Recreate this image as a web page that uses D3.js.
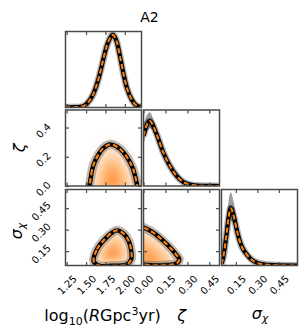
<!DOCTYPE html>
<html><head><meta charset="utf-8">
<script src="https://cdn.jsdelivr.net/npm/d3@7"></script>
<style>body{margin:0;background:#fff}svg{display:block;font-family:"DejaVu Sans",sans-serif}</style>
</head><body><svg id="c" width="307" height="334"></svg>
<script>
// ---------- data ----------
const varNames = ["logR", "zeta", "sigma"];
const domLogR = [1.235, 2.215];
const domZeta = [0, 0.52];
const domSigma = [0.05, 0.58];

// 1D marginal of log10 R (relative density)
const logRGrid = [1.232, 1.35, 1.448, 1.512, 1.598, 1.663, 1.706, 1.748, 1.792, 1.843, 1.899, 1.942, 1.985, 2.028, 2.093, 2.157, 2.221];
const logRMed  = [0.003, 0.004, 0.012, 0.053, 0.187, 0.387, 0.564, 0.742, 0.876, 0.956, 0.853, 0.653, 0.431, 0.253, 0.097, 0.022, 0.004];
const logRHi   = [0.005, 0.008, 0.020, 0.075, 0.220, 0.430, 0.610, 0.790, 0.920, 0.990, 0.900, 0.700, 0.480, 0.290, 0.120, 0.032, 0.007];
const logRLo   = [0.001, 0.002, 0.006, 0.035, 0.155, 0.345, 0.520, 0.700, 0.830, 0.910, 0.810, 0.600, 0.385, 0.215, 0.075, 0.014, 0.001];

// 1D marginal of zeta
const zetaGrid = [0.000, 0.022, 0.044, 0.067, 0.090, 0.136, 0.181, 0.227, 0.272, 0.318, 0.387, 0.450, 0.520];
const zetaMed  = [0.660, 0.800, 0.855, 0.790, 0.680, 0.438, 0.263, 0.132, 0.053, 0.018, 0.003, 0.001, 0.000];
const zetaHi   = [0.800, 0.930, 0.970, 0.880, 0.740, 0.475, 0.288, 0.150, 0.066, 0.025, 0.006, 0.002, 0.001];
const zetaLo   = [0.540, 0.700, 0.760, 0.720, 0.630, 0.405, 0.240, 0.116, 0.042, 0.012, 0.001, 0.000, 0.000];

// 1D marginal of sigma_chi
const sigmaGrid = [0.050, 0.060, 0.084, 0.100, 0.114, 0.137, 0.160, 0.188, 0.223, 0.258, 0.305, 0.374, 0.450, 0.580];
const sigmaMed  = [0.020, 0.088, 0.395, 0.636, 0.754, 0.636, 0.439, 0.263, 0.154, 0.079, 0.031, 0.009, 0.002, 0.000];
const sigmaHi   = [0.050, 0.170, 0.580, 0.860, 0.965, 0.820, 0.560, 0.340, 0.200, 0.110, 0.045, 0.014, 0.004, 0.001];
const sigmaLo   = [0.005, 0.040, 0.260, 0.480, 0.600, 0.530, 0.370, 0.210, 0.120, 0.055, 0.020, 0.005, 0.001, 0.000];

// 2D credible contours [x, y] and density peaks
const contourRZeta = [[1.568,-0.07],[1.568,0.080],[1.599,0.148],[1.654,0.210],[1.728,0.262],[1.813,0.285],[1.899,0.269],[1.985,0.228],[2.071,0.159],[2.127,0.080],[2.144,-0.07]];
const peakRZeta = [1.84, 0.04];
const contourRSigma = [[1.598,0.081],[1.641,0.163],[1.728,0.226],[1.835,0.279],[1.899,0.295],[1.985,0.272],[2.050,0.221],[2.083,0.151],[2.083,0.093],[2.028,0.058],[1.835,0.048],[1.663,0.050]];
const peakRSigma = [1.835, 0.13];
const contourZetaSigma = [[-0.07,0.350],[0.003,0.314],[0.067,0.279],[0.136,0.221],[0.193,0.163],[0.227,0.121],[0.245,0.093],[0.227,0.065],[0.159,0.053],[0.067,0.051],[0.003,0.056],[-0.07,0.060]];
const peakZetaSigma = [0.04, 0.085];

// ticks
const ticksLogR = [1.25, 1.50, 1.75, 2.00];
const tickLabelsLogR = ["1.25", "1.50", "1.75", "2.00"];
const ticksZetaX = [0.00, 0.15, 0.30, 0.45];
const tickLabelsZetaX = ["0.00", "0.15", "0.30", "0.45"];
const ticksZetaY = [0.0, 0.2, 0.4];
const tickLabelsZetaY = ["0.0", "0.2", "0.4"];
const ticksSigma = [0.15, 0.30, 0.45];
const tickLabelsSigma = ["0.15", "0.30", "0.45"];

// ---------- layout ----------
const colX = [65.5, 143.5, 221.5];
const rowY = [31.5, 110, 189.5];
const S = 76;
const orange = "#ff7f0e";
const frameColor = "#4a4a4a";
const tickFont = 10;

const doms = [domLogR, domZeta, domSigma];
const xTicks = [[ticksLogR, tickLabelsLogR], [ticksZetaX, tickLabelsZetaX], [ticksSigma, tickLabelsSigma]];
const yTicks = [null, [ticksZetaY, tickLabelsZetaY], [ticksSigma, tickLabelsSigma]];

const xS = doms.map((d, c) => d3.scaleLinear().domain(d).range([colX[c], colX[c] + S]));
const yS = doms.map((d, r) => d3.scaleLinear().domain(d).range([rowY[r] + S, rowY[r]]));

const svg = d3.select("#c");
const defs = svg.append("defs");
for (let r = 0; r < 3; r++) for (let c = 0; c <= r; c++) {
  defs.append("clipPath").attr("id", `cp${r}${c}`).append("rect")
    .attr("x", colX[c]).attr("y", rowY[r]).attr("width", S).attr("height", S);
}
defs.append("filter").attr("id", "blur").attr("x", "-50%").attr("y", "-50%")
  .attr("width", "200%").attr("height", "200%")
  .append("feGaussianBlur").attr("stdDeviation", 2.4);

// ---------- 1D panels ----------
const oneD = [
  {grid: logRGrid, med: logRMed, hi: logRHi, lo: logRLo},
  {grid: zetaGrid, med: zetaMed, hi: zetaHi, lo: zetaLo},
  {grid: sigmaGrid, med: sigmaMed, hi: sigmaHi, lo: sigmaLo}
];
oneD.forEach((d, i) => {
  const x = xS[i];
  const y = d3.scaleLinear().domain([0, 1]).range([rowY[i] + S, rowY[i]]);
  const g = svg.append("g").attr("clip-path", `url(#cp${i}${i})`);
  const area = d3.area().x((v, k) => x(d.grid[k])).y0((v, k) => y(d.lo[k])).y1((v, k) => y(d.hi[k]))
    .curve(d3.curveMonotoneX);
  g.append("path").datum(d.med).attr("d", area).attr("fill", "#000").attr("fill-opacity", 0.38);
  const line = d3.line().x((v, k) => x(d.grid[k])).y(v => y(v)).curve(d3.curveMonotoneX);
  g.append("path").datum(d.med).attr("d", line).attr("fill", "none")
    .attr("stroke", "#000").attr("stroke-opacity", 0.3).attr("stroke-width", 7);
  g.append("path").datum(d.med).attr("d", line).attr("fill", "none")
    .attr("stroke", "#000").attr("stroke-width", 4.2);
  g.append("path").datum(d.med).attr("d", line).attr("fill", "none")
    .attr("stroke", orange).attr("stroke-width", 2.1).attr("stroke-dasharray", "5,3");
});

// ---------- 2D panels ----------
const twoD = [
  {r: 1, c: 0, pts: contourRZeta, peak: peakRZeta},
  {r: 2, c: 0, pts: contourRSigma, peak: peakRSigma},
  {r: 2, c: 1, pts: contourZetaSigma, peak: peakZetaSigma}
];
const fillLevels = [[1.28, 0.03], [1.1, 0.07], [0.95, 0.13], [0.76, 0.17], [0.56, 0.24], [0.36, 0.32], [0.18, 0.35]];
twoD.forEach(p => {
  const x = xS[p.c], y = yS[p.r];
  const line = d3.line().x(q => x(q[0])).y(q => y(q[1])).curve(d3.curveCatmullRomClosed.alpha(0.5));
  const outer = svg.append("g").attr("clip-path", `url(#cp${p.r}${p.c})`);
  const fg = outer.append("g").attr("filter", "url(#blur)");
  const px = x(p.peak[0]), py = y(p.peak[1]);
  fillLevels.forEach(([k, a]) => {
    fg.append("path").datum(p.pts).attr("d", line).attr("fill", orange).attr("fill-opacity", a)
      .attr("transform", `translate(${px},${py}) scale(${k}) translate(${-px},${-py})`);
  });
  outer.append("path").datum(p.pts).attr("d", line).attr("fill", "none")
    .attr("stroke", "#000").attr("stroke-opacity", 0.25).attr("stroke-width", 9);
  outer.append("path").datum(p.pts).attr("d", line).attr("fill", "none")
    .attr("stroke", "#000").attr("stroke-width", 4.4);
  outer.append("path").datum(p.pts).attr("d", line).attr("fill", "none")
    .attr("stroke", orange).attr("stroke-width", 2.2).attr("stroke-dasharray", "5,3");
});

// ---------- axes ----------
function styleAxis(g) {
  g.select(".domain").remove();
  g.selectAll(".tick line").attr("stroke", frameColor).attr("stroke-width", 1.2);
  g.attr("font-family", "DejaVu Sans").attr("font-size", tickFont);
  g.selectAll(".tick text").attr("fill", "#000");
}
for (let r = 0; r < 3; r++) for (let c = 0; c <= r; c++) {
  const [xt, xl] = xTicks[c];
  const top = svg.append("g").attr("transform", `translate(0,${rowY[r]})`)
    .call(d3.axisTop(xS[c]).tickValues(xt).tickSize(-3.5).tickFormat(""));
  styleAxis(top);
  const bottom = svg.append("g").attr("transform", `translate(0,${rowY[r] + S})`)
    .call(d3.axisBottom(xS[c]).tickValues(xt).tickSize(-3.5)
      .tickFormat(r === 2 ? (d, i) => xl[i] : ""));
  styleAxis(bottom);
  if (r === 2) {
    bottom.selectAll(".tick text").attr("y", 0).attr("dy", 0)
      .attr("text-anchor", "middle").attr("dominant-baseline", "central")
      .attr("transform", "translate(0,19.5) rotate(-45)");
  }
  if (r > c) {
    const [yt, yl] = yTicks[r];
    const left = svg.append("g").attr("transform", `translate(${colX[c]},0)`)
      .call(d3.axisLeft(yS[r]).tickValues(yt).tickSize(-3.5)
        .tickFormat(c === 0 ? (d, i) => yl[i] : ""));
    styleAxis(left);
    if (c === 0) {
      left.selectAll(".tick text").each(function () {
        const w = this.getComputedTextLength();
        const bw = (w + tickFont) * 0.7071;
        d3.select(this).attr("x", 0).attr("dy", 0)
          .attr("text-anchor", "middle").attr("dominant-baseline", "central")
          .attr("transform", `translate(${-(13 + bw / 2)},2.5) rotate(-45)`);
      });
    }
    const right = svg.append("g").attr("transform", `translate(${colX[c] + S},0)`)
      .call(d3.axisRight(yS[r]).tickValues(yt).tickSize(-3.5).tickFormat(""));
    styleAxis(right);
  }
  svg.append("rect").attr("x", colX[c]).attr("y", rowY[r]).attr("width", S).attr("height", S)
    .attr("fill", "none").attr("stroke", frameColor).attr("stroke-width", 1.5);
}

// ---------- labels ----------
svg.append("text").attr("x", 149.5).attr("y", 21.5).attr("text-anchor", "middle")
  .attr("font-size", 14).text("A2");

function centerText(t, cx) {
  const w = t.node().getComputedTextLength();
  t.attr("x", cx - w / 2);
}

const xl = svg.append("text").attr("y", 321).attr("font-size", 16);
xl.append("tspan").text("log");
xl.append("tspan").attr("font-size", 11).attr("dy", 4).text("10");
xl.append("tspan").attr("dy", -4).text("(");
xl.append("tspan").attr("font-style", "italic").text("R");
xl.append("tspan").text("Gpc");
xl.append("tspan").attr("font-size", 11).attr("dy", -6.5).text("3");
xl.append("tspan").attr("dy", 6.5).text("yr)");
centerText(xl, 102.5);

svg.append("text").attr("x", 181.7).attr("y", 321).attr("text-anchor", "middle")
  .attr("font-size", 16).attr("font-style", "italic").text("ζ");
const sx = svg.append("text").attr("y", 319).attr("font-size", 16).attr("font-style", "italic");
sx.append("tspan").text("σ");
sx.append("tspan").attr("font-size", 11).attr("dy", 3).text("χ");
centerText(sx, 260);

svg.append("text").attr("transform", "translate(25,148) rotate(-90)").attr("text-anchor", "middle")
  .attr("font-size", 16).attr("font-style", "italic").text("ζ");
const sy = svg.append("text").attr("transform", "translate(22,231) rotate(-90)")
  .attr("font-size", 16).attr("font-style", "italic");
sy.append("tspan").text("σ");
sy.append("tspan").attr("font-size", 11).attr("dy", 3).text("χ");
centerText(sy, 0);
</script>
</body></html>
